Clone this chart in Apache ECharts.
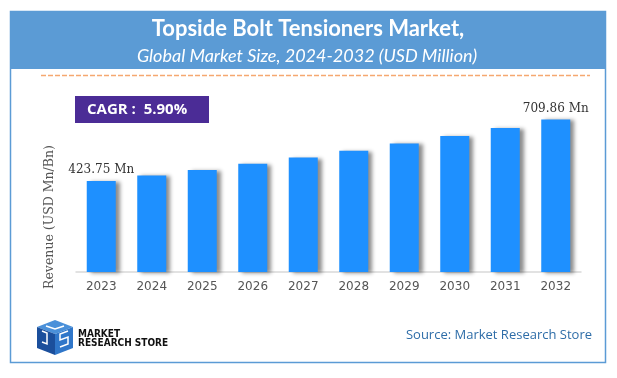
<!DOCTYPE html>
<html>
<head>
<meta charset="utf-8">
<script src="https://cdn.jsdelivr.net/npm/echarts@6/dist/echarts.min.js"></script>
<style>
html,body{margin:0;padding:0;background:#fff;}
#chart{width:617px;height:378px;}
</style>
</head>
<body>
<div id="chart"></div>
<script>
const years = ['2023','2024','2025','2026','2027','2028','2029','2030','2031','2032'];
const revenue = [423.75, 449, 475, 503, 532, 564, 598, 633, 670, 709.86];
const labelledIdx = [0, 9];
const titleText = 'Topside Bolt Tensioners Market,';
const subtitleText = 'Global Market Size, 2024-2032 (USD Million)';
const cagrText = 'CAGR :  5.90%';
const yAxisName = 'Revenue (USD Mn/Bn)';
const sourceText = 'Source: Market Research Store';

const chart = echarts.init(document.getElementById('chart'), null, {renderer:'canvas'});

const seriesData = revenue.map((v, i) => {
  const item = {value: v};
  if (labelledIdx.includes(i)) {
    item.label = {show: true, position: 'top', distance: 5,
      formatter: p => p.value.toFixed(2) + ' Mn',
      fontFamily: 'DejaVu Serif', fontSize: 12, color: '#333'};
  }
  return item;
});

const option = {
  animation: false,
  backgroundColor: '#ffffff',
  grid: {left: 76, right: 36, top: 100, bottom: 106},
  xAxis: {
    type: 'category',
    data: years,
    axisLine: {show: true, lineStyle: {color: '#d9d9d9', width: 1.5}},
    axisTick: {show: false},
    axisLabel: {color: '#555', fontFamily: 'DejaVu Sans', fontSize: 12, margin: 9}
  },
  yAxis: {
    type: 'value', min: 0, max: 800, show: false,
    splitLine: {show: false}
  },
  series: [{
    type: 'bar',
    data: seriesData,
    barWidth: 29,
    itemStyle: {
      color: '#1E90FF',
      shadowColor: 'rgba(0,0,0,0.45)',
      shadowBlur: 4,
      shadowOffsetX: 4,
      shadowOffsetY: 1
    },
    label: {show: false}
  }],
  graphic: [
    {type: 'rect', shape: {x: 10.5, y: 11.5, width: 595, height: 351},
     style: {fill: 'none', stroke: '#5B9BD5', lineWidth: 1.5}, z: 1},
    {type: 'rect', shape: {x: 10, y: 11, width: 596, height: 58},
     style: {fill: '#5B9BD5'}, z: 2},
    {type: 'text', x: 308, y: 29, z: 3,
     style: {text: titleText, fill: '#fff', font: 'bold 22px Lato',
             textAlign: 'center', textVerticalAlign: 'middle'}},
    {type: 'text', x: 307, y: 56, z: 3,
     style: {text: subtitleText, fill: '#fff', font: 'italic 18px Lato',
             textAlign: 'center', textVerticalAlign: 'middle'}},
    {type: 'line', shape: {x1: 41, y1: 75.5, x2: 590, y2: 75.5}, z: 2,
     style: {stroke: '#F5A870', lineWidth: 1.5, lineDash: [5, 2]}},
    {type: 'rect', shape: {x: 75, y: 96, width: 134, height: 27},
     style: {fill: '#4B2C96'}, z: 2},
    {type: 'text', x: 87, y: 110, z: 3,
     style: {text: cagrText, fill: '#fff', font: 'bold 15px "Open Sans"',
             textAlign: 'left', textVerticalAlign: 'middle'}},
    {type: 'text', x: 50, y: 217, rotation: Math.PI / 2, z: 3,
     style: {text: yAxisName, fill: '#555', font: '12.5px "DejaVu Serif"',
             textAlign: 'center', textVerticalAlign: 'middle'}},
    {type: 'text', x: 592, y: 335, z: 3,
     style: {text: sourceText, fill: '#2E6DA8', font: '13px "Open Sans"',
             textAlign: 'right', textVerticalAlign: 'middle'}},
    {type: 'polygon', z: 3, shape: {points: [[37,327],[55,320],[73,327],[55,334]]},
     style: {fill: '#4A90D9'}},
    {type: 'polygon', z: 3, shape: {points: [[37,327],[55,334],[55,355],[37,348]]},
     style: {fill: '#1B4F9C'}},
    {type: 'polygon', z: 3, shape: {points: [[55,334],[73,327],[73,348],[55,355]]},
     style: {fill: '#2F76C9'}},
    {type: 'polyline', z: 4, shape: {points: [[42,331],[47,333],[47,344],[42,342]]},
     style: {stroke: '#fff', lineWidth: 1.5, fill: 'none'}},
    {type: 'polyline', z: 4, shape: {points: [[68,331],[60,334],[60,340],[68,337],[68,344],[60,347]]},
     style: {stroke: '#fff', lineWidth: 1.5, fill: 'none'}},
    {type: 'polyline', z: 4, shape: {points: [[46,326],[55,329],[64,326]]},
     style: {stroke: '#fff', lineWidth: 1.5, fill: 'none'}},
    {type: 'text', x: 78, y: 334, z: 3,
     style: {text: 'MARKET', fill: '#111', font: 'bold 10px "Liberation Sans Narrow", "DejaVu Sans Condensed", sans-serif',
             textAlign: 'left', textVerticalAlign: 'middle'}},
    {type: 'text', x: 78, y: 343, z: 3,
     style: {text: 'RESEARCH STORE', fill: '#111', font: 'bold 10px "Liberation Sans Narrow", "DejaVu Sans Condensed", sans-serif',
             textAlign: 'left', textVerticalAlign: 'middle'}}
  ]
};
chart.setOption(option);
</script>
</body>
</html>
